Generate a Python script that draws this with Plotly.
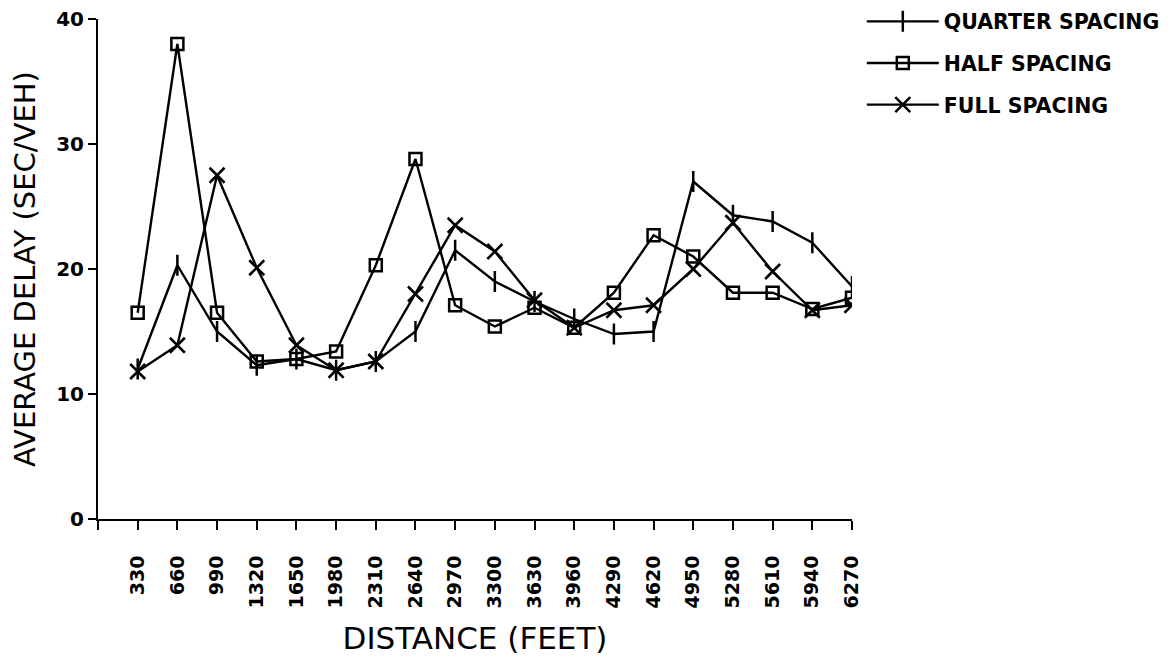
import plotly.graph_objects as go

distance = [330, 660, 990, 1320, 1650, 1980, 2310, 2640, 2970, 3300,
            3630, 3960, 4290, 4620, 4950, 5280, 5610, 5940, 6270]
quarter = [12.0, 20.3, 15.0, 12.3, 12.8, 11.9, 12.6, 15.0, 21.5, 19.0,
           17.4, 16.0, 14.8, 15.0, 27.0, 24.3, 23.8, 22.1, 18.6]
half = [16.5, 38.0, 16.5, 12.6, 12.8, 13.4, 20.3, 28.8, 17.1, 15.4,
        16.9, 15.3, 18.1, 22.7, 21.0, 18.1, 18.1, 16.8, 17.7]
full = [11.8, 13.9, 27.5, 20.1, 13.9, 11.9, 12.6, 18.0, 23.5, 21.4,
        17.5, 15.3, 16.7, 17.1, 20.0, 23.7, 19.8, 16.7, 17.1]
series_names = ["QUARTER SPACING", "HALF SPACING", "FULL SPACING"]
y_ticks = [0, 10, 20, 30, 40]

FONT = "DejaVu Sans"
fig = go.Figure()
styles = [
    dict(symbol="line-ns-open", size=15),
    dict(symbol="square-open", size=12),
    dict(symbol="x-thin-open", size=15),
]
for i, (name, vals) in enumerate(zip(series_names, [quarter, half, full])):
    fig.add_trace(go.Scatter(
        x=distance, y=vals, name=f"<b>{name}</b>", mode="lines+markers",
        legendgroup=f"g{i}",
        line=dict(color="black", width=2.4),
        marker=dict(color="black", line=dict(color="black", width=2.5), **styles[i]),
    ))

fig.update_layout(
    width=1175, height=662,
    margin=dict(l=90, r=331, t=11, b=151, autoexpand=False),
    paper_bgcolor="white", plot_bgcolor="white",
    font=dict(family=FONT, color="black", size=17),
    showlegend=True,
    legend=dict(x=1.013, y=1.035, xanchor="left", yanchor="top",
                font=dict(size=20.5, family=FONT), tracegroupgap=12,
                bgcolor="rgba(0,0,0,0)", itemwidth=72),
)
fig.update_xaxes(
    range=[0, 6270], tickvals=[0] + distance,
    ticktext=[""] + [f"<b>{d}</b>" for d in distance],
    tickangle=-90, ticks="outside", ticklen=9, tickwidth=2, tickcolor="black",
    showline=True, linecolor="black", linewidth=2, showgrid=False, zeroline=False,
    tickfont=dict(size=19, family=FONT), ticklabelstandoff=18, ticklabeloverflow="allow",
    title=dict(text="DISTANCE (FEET)", font=dict(size=31, family=FONT), standoff=20),
)
fig.update_yaxes(
    range=[0, 40], tickvals=y_ticks, ticktext=[f"<b>{v}</b>" for v in y_ticks],
    ticks="outside", ticklen=8, tickwidth=2, tickcolor="black",
    showline=True, linecolor="black", linewidth=2, showgrid=False, zeroline=False,
    tickfont=dict(size=20, family=FONT), ticklabelstandoff=0, ticklabeloverflow="allow",
    title=dict(text="AVERAGE DELAY (SEC/VEH)", font=dict(size=29, family=FONT), standoff=22),
)
fig.write_html("out.html")
